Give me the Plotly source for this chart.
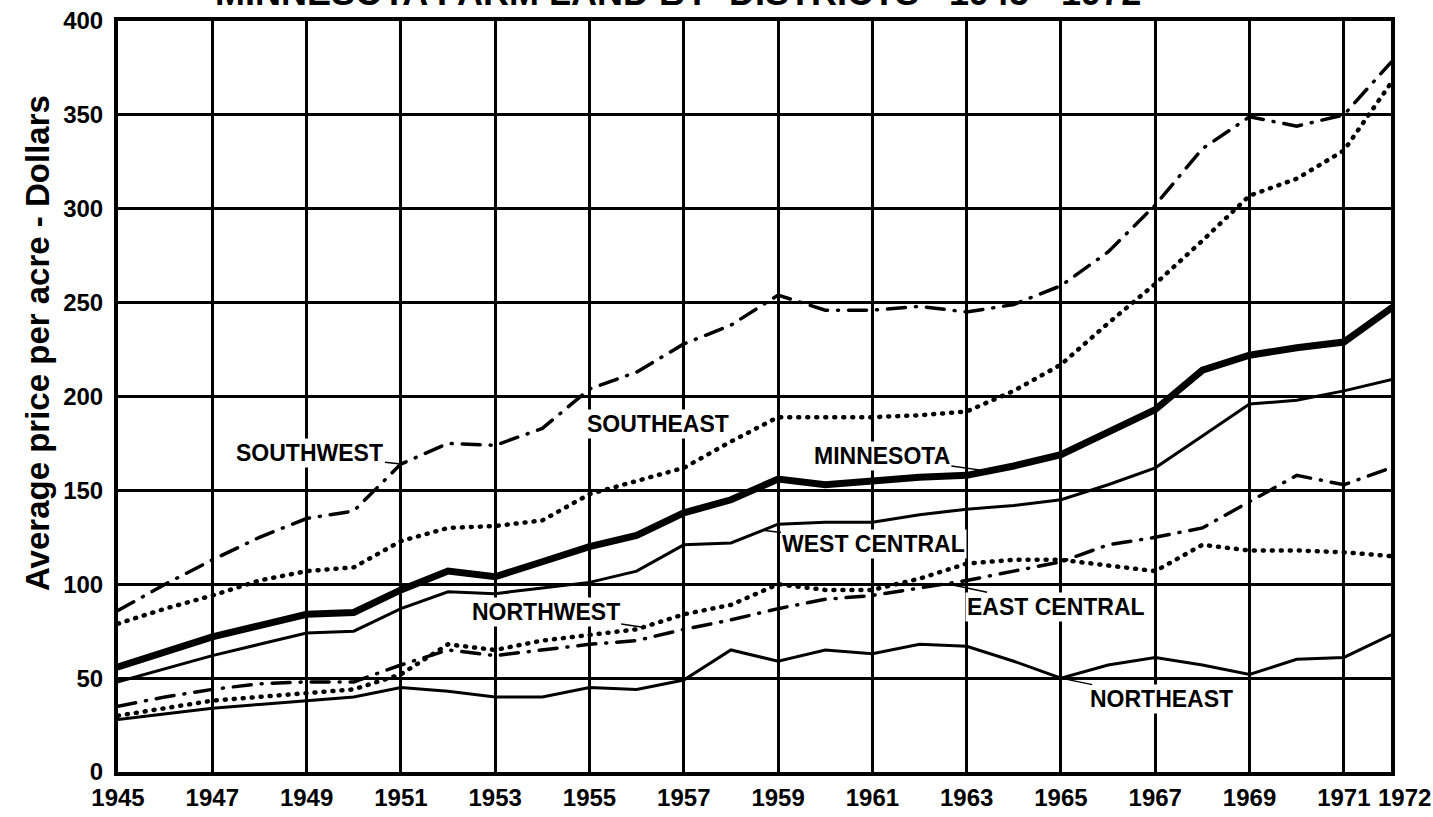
import numpy as np
import plotly.graph_objects as go

years = list(range(1945, 1973))

minnesota = [56, 64, 72, 78, 84, 85, 97, 107, 104, 112, 120, 126, 138, 145, 156, 153,
             155, 157, 158, 163, 169, 181, 193, 214, 222, 226, 229, 247]
southwest = [86, 100, 113, 125, 135, 139, 164, 175, 174, 183, 204, 213, 228, 238, 254, 246,
             246, 248, 245, 249, 259, 277, 302, 332, 349, 344, 350, 378]
southeast = [79, 87, 94, 102, 107, 109, 123, 130, 131, 134, 148, 155, 162, 176, 189, 189,
             189, 190, 192, 203, 217, 239, 260, 283, 307, 316, 331, 367]
west_central = [48, 55, 62, 68, 74, 75, 87, 96, 95, 98, 101, 107, 121, 122, 132, 133,
                133, 137, 140, 142, 145, 153, 162, 179, 196, 198, 203, 209]
east_central = [35, 40, 44, 47, 48, 48, 57, 65, 62, 65, 68, 70, 76, 81, 87, 92,
                94, 98, 102, 107, 112, 121, 125, 130, 144, 158, 153, 162]
northwest = [30, 34, 38, 40, 42, 44, 52, 68, 65, 70, 73, 76, 84, 89, 100, 97,
             97, 103, 111, 113, 113, 110, 107, 121, 118, 118, 117, 115]
northeast = [28, 31, 34, 36, 38, 40, 45, 43, 40, 40, 45, 44, 49, 65, 59, 65,
             63, 68, 67, 59, 50, 57, 61, 57, 52, 60, 61, 73]

x_ticks = [1945, 1947, 1949, 1951, 1953, 1955, 1957, 1959, 1961, 1963, 1965, 1967, 1969, 1971, 1972]
x_tick_text = ["1945", "1947", "1949", "1951", "1953", "1955", "1957", "1959", "1961",
               "1963", "1965", "1967", "1969", "1971", ""]
last_year_label = "1972"
y_ticks = [0, 50, 100, 150, 200, 250, 300, 350, 400]

NB = "\u00a0"
title_text = "MINNESOTA FARM LAND BY" + NB * 2 + "DISTRICTS" + NB * 3 + "1945 - 1972"
y_title = "Average price per acre - Dollars"

FONT = "Liberation Sans, Arial, Helvetica, sans-serif"

DASHDOT = "18px,10px,1px,10px"
DOTTED = "1px,8px"

series = [
    ("SOUTHWEST", southwest, dict(color="black", width=3.5, dash=DASHDOT)),
    ("SOUTHEAST", southeast, dict(color="black", width=4.5, dash=DOTTED)),
    ("WEST CENTRAL", west_central, dict(color="black", width=3)),
    ("EAST CENTRAL", east_central, dict(color="black", width=3.5, dash=DASHDOT)),
    ("NORTHWEST", northwest, dict(color="black", width=4.5, dash=DOTTED)),
    ("NORTHEAST", northeast, dict(color="black", width=3)),
    ("MINNESOTA", minnesota, dict(color="black", width=7)),
]

fig = go.Figure()
for name, vals, line in series:
    fig.add_trace(go.Scatter(x=years, y=vals, mode="lines", name=name, line=line,
                             showlegend=False))

lab_font = dict(family=FONT, size=23, color="black", weight="bold")

def leader(text, yr, vals, ax, ay):
    val = float(np.interp(yr, years, vals))
    fig.add_annotation(x=yr, y=val, xref="x", yref="y", text=text, showarrow=True,
                       arrowhead=0, arrowwidth=1.5, arrowcolor="black", ax=ax, ay=ay,
                       standoff=0, startstandoff=0, font=lab_font, bgcolor="white",
                       borderpad=1)

leader("SOUTHWEST", 1951, southwest, -91, -11)
leader("MINNESOTA", 1963.45, minnesota, -106, -15)
leader("WEST CENTRAL", 1958.68, west_central, 111, 14)
leader("NORTHWEST", 1956.13, northwest, -97, -15)
leader("EAST CENTRAL", 1962.58, east_central, 109, 23)
leader("NORTHEAST", 1965, northeast, 101, 21)

fig.add_annotation(x=1956.45, y=185.3, xref="x", yref="y", text="SOUTHEAST", showarrow=False,
                   font=lab_font, bgcolor="white", borderpad=1)

# title line, partly running off the top edge as in the scanned original
fig.add_annotation(x=0.44, y=1.0080, xref="paper", yref="paper", xanchor="center",
                   yanchor="bottom", text=title_text, showarrow=False,
                   font=dict(family=FONT, size=36, color="black", weight="bold"))

# y-axis title
fig.add_annotation(x=-(118 - 38) / 1273, y=(772 - 343) / 751, xref="paper", yref="paper",
                   xanchor="center", yanchor="middle", text=y_title, textangle=-90,
                   showarrow=False, font=dict(family=FONT, size=33, color="black", weight="bold"))

tick_font = dict(family=FONT, size=24, color="black", weight="bold")

# last x label sits a little right of its grid line in the original
fig.add_annotation(x=1972, y=0, xref="x", yref="y", xanchor="center", yanchor="top",
                   xshift=13, yshift=-11, text=last_year_label, showarrow=False,
                   font=tick_font, borderpad=0)

fig.update_xaxes(range=[1945, 1972], tickmode="array", tickvals=x_ticks,
                 ticktext=x_tick_text, tickangle=0, showgrid=True, gridcolor="black",
                 gridwidth=2.5, showline=True, linecolor="black", linewidth=4, mirror=True,
                 zeroline=False, ticks="", tickfont=tick_font, ticklabelstandoff=1,
                 automargin=False)
fig.update_yaxes(range=[0, 400], tickmode="array", tickvals=y_ticks,
                 ticktext=[str(t) for t in y_ticks], showgrid=True, gridcolor="black",
                 gridwidth=2.5, showline=True, linecolor="black", linewidth=4, mirror=True,
                 zeroline=False, ticks="", tickfont=tick_font, ticklabelstandoff=6,
                 automargin=False)

fig.update_layout(width=1433, height=817, margin=dict(l=118, r=42, t=21, b=45, autoexpand=False),
                  paper_bgcolor="white", plot_bgcolor="white", showlegend=False)

post = (
    "document.body.style.margin='0';"
    "document.querySelectorAll('.scatterlayer path.js-line').forEach(function(p){"
    "p.style.strokeLinecap='round';});"
)
fig.write_html("out.html", post_script=post, config={"displayModeBar": False})
